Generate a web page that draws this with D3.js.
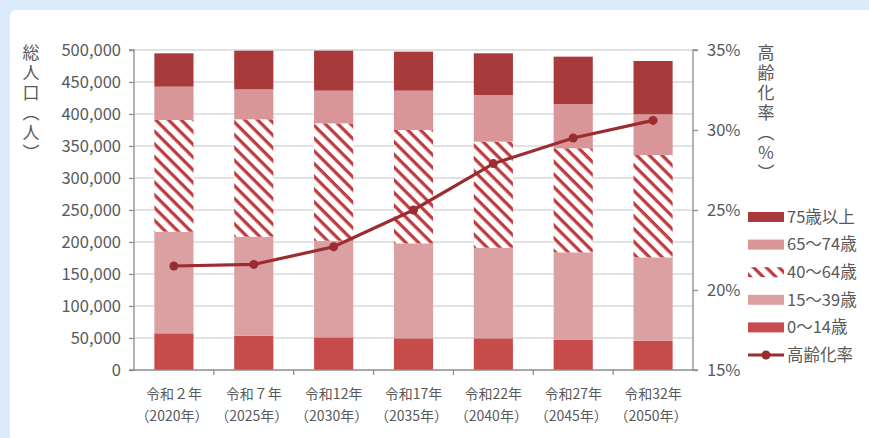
<!DOCTYPE html>
<html>
<head>
<meta charset="utf-8">
<script src="https://cdn.jsdelivr.net/npm/d3@7"></script>
<style>
  html, body { margin: 0; padding: 0; background: #dcebfb; }
  body { width: 869px; height: 438px; overflow: hidden; }
  svg { display: block; }
  text { font-family: "Noto Sans CJK JP", "Noto Sans", sans-serif; fill: #595959; }
</style>
</head>
<body>
<svg id="chart" width="869" height="438"></svg>
<script>
// Population projection by age group (people) and aging rate (%)
const periods = ["令和２年", "令和７年", "令和12年", "令和17年", "令和22年", "令和27年", "令和32年"];
const years = ["（2020年）", "（2025年）", "（2030年）", "（2035年）", "（2040年）", "（2045年）", "（2050年）"];

const age0to14  = [57300, 53600, 51000, 49500, 49500, 46900, 45800];
const age15to39 = [158800, 154700, 151000, 148400, 141600, 137000, 130200];
const age40to64 = [174500, 183400, 183400, 177100, 165700, 162500, 159900];
const age65to74 = [52100, 46800, 51100, 61500, 72900, 69200, 63600];
const age75plus = [52100, 60400, 62500, 60900, 65100, 74000, 83300];
const agingRate = [21.5, 21.6, 22.7, 25.0, 27.9, 29.5, 30.6];

const popTicks = [0, 50000, 100000, 150000, 200000, 250000, 300000, 350000, 400000, 450000, 500000];
const rateTicks = [15, 20, 25, 30, 35];

const seriesNames = ["0～14歳", "15～39歳", "40～64歳", "65～74歳", "75歳以上"];
const seriesData = [age0to14, age15to39, age40to64, age65to74, age75plus];
const seriesFill = ["#c84b4c", "#dba0a2", "url(#hatch)", "#d99597", "#a93a3b"];

const svg = d3.select("#chart");

// white card
svg.append("rect").attr("x", 10).attr("y", 10).attr("width", 869).attr("height", 438)
  .attr("rx", 6).attr("fill", "#ffffff");

// diagonal stripes running from upper left to lower right
const defs = svg.append("defs");
const pat = defs.append("pattern").attr("id", "hatch")
  .attr("patternUnits", "userSpaceOnUse").attr("width", 9).attr("height", 9)
  .attr("patternTransform", "rotate(45)");
pat.append("rect").attr("width", 9).attr("height", 9).attr("fill", "#ffffff");
pat.append("rect").attr("x", 0).attr("y", 0).attr("width", 9).attr("height", 3.3).attr("fill", "#bf3c40");

const plotL = 134, plotR = 693, plotT = 50, plotB = 370;

const x = d3.scaleBand().domain(d3.range(periods.length)).range([plotL, plotR]).paddingInner(0.51).paddingOuter(0.255);
const xb = d3.scaleBand().domain(d3.range(periods.length)).range([plotL, plotR]);
const y = d3.scaleLinear().domain([0, 500000]).range([plotB, plotT]);
const yr = d3.scaleLinear().domain([15, 35]).range([plotB, plotT]);

// gridlines
svg.append("g").selectAll("line").data(popTicks.slice(1)).join("line")
  .attr("x1", plotL).attr("x2", plotR)
  .attr("y1", d => y(d)).attr("y2", d => y(d))
  .attr("stroke", "#d9d9d9").attr("stroke-width", 1.3);

// stacked bars
const table = periods.map((p, i) => {
  const row = { i };
  seriesNames.forEach((s, k) => { row[s] = seriesData[k][i]; });
  return row;
});
const stack = d3.stack().keys(seriesNames)(table);
svg.append("g").selectAll("g").data(stack).join("g")
  .attr("fill", (d, k) => seriesFill[k])
  .selectAll("rect").data(d => d).join("rect")
  .attr("x", d => x(d.data.i))
  .attr("width", x.bandwidth())
  .attr("y", d => y(d[1]))
  .attr("height", d => y(d[0]) - y(d[1]));

// left axis
const axisColor = "#8c8c8c";
const tickFont = "'Noto Sans CJK JP', sans-serif";
const gl = svg.append("g").attr("transform", `translate(${plotL},0)`)
  .call(d3.axisLeft(y).tickValues(popTicks).tickSize(5).tickPadding(8).tickFormat(d3.format(",")));
gl.select(".domain").attr("stroke", axisColor).attr("stroke-width", 1.3).attr("d", `M-5,${plotT}H0V${plotB}H-5`);
gl.selectAll(".tick line").attr("stroke", axisColor).attr("stroke-width", 1.3);
gl.selectAll(".tick text").attr("font-size", 16.5).attr("fill", "#595959").attr("font-family", tickFont);

// right axis
const gr = svg.append("g").attr("transform", `translate(${plotR},0)`)
  .call(d3.axisRight(yr).tickValues(rateTicks).tickSize(5).tickPadding(9).tickFormat(d => d + "%"));
gr.select(".domain").attr("stroke", axisColor).attr("stroke-width", 1.3).attr("d", `M5,${plotT}H0V${plotB}H5`);
gr.selectAll(".tick line").attr("stroke", axisColor).attr("stroke-width", 1.3);
gr.selectAll(".tick text").attr("font-size", 16.5).attr("fill", "#595959").attr("font-family", tickFont);

// bottom axis
const gb = svg.append("g");
gb.append("line").attr("x1", plotL).attr("x2", plotR).attr("y1", plotB).attr("y2", plotB)
  .attr("stroke", axisColor).attr("stroke-width", 1.3);
gb.selectAll("line.tk").data(d3.range(1, periods.length)).join("line").attr("class", "tk")
  .attr("x1", d => xb(d)).attr("x2", d => xb(d)).attr("y1", plotB).attr("y2", plotB + 5)
  .attr("stroke", axisColor).attr("stroke-width", 1.3);
gb.selectAll("text.p").data(periods).join("text").attr("class", "p")
  .attr("x", (d, i) => xb(i) + xb.bandwidth() / 2).attr("y", 399)
  .attr("text-anchor", "middle").attr("font-size", 14).attr("fill", "#4d4d4d").text(d => d);
gb.selectAll("text.yr").data(years).join("text").attr("class", "yr")
  .attr("x", (d, i) => xb(i) + xb.bandwidth() / 2 - 2).attr("y", 421)
  .attr("text-anchor", "middle").attr("font-size", 14).attr("fill", "#4d4d4d").text(d => d);

// aging rate line
const lineColor = "#9b2d30";
svg.append("path").datum(agingRate)
  .attr("fill", "none").attr("stroke", lineColor).attr("stroke-width", 3.2)
  .attr("d", d3.line().x((d, i) => xb(i) + xb.bandwidth() / 2).y(d => yr(d)));
svg.append("g").selectAll("circle").data(agingRate).join("circle")
  .attr("cx", (d, i) => xb(i) + xb.bandwidth() / 2).attr("cy", d => yr(d))
  .attr("r", 4.5).attr("fill", lineColor);

// vertical axis titles
svg.append("text").attr("x", 31).attr("y", 44)
  .style("writing-mode", "vertical-rl").style("letter-spacing", "3px")
  .attr("font-size", 17).attr("fill", "#404040")
  .text("総人口（人）");
svg.append("text").attr("x", 766).attr("y", 44)
  .style("writing-mode", "vertical-rl").style("letter-spacing", "3px")
  .attr("font-size", 17).attr("fill", "#404040")
  .text("高齢化率（％）");

// legend
const legendItems = [
  { name: "75歳以上", fill: seriesFill[4] },
  { name: "65～74歳", fill: seriesFill[3] },
  { name: "40～64歳", fill: seriesFill[2] },
  { name: "15～39歳", fill: seriesFill[1] },
  { name: "0～14歳", fill: seriesFill[0] },
  { name: "高齢化率", line: true }
];
const lg = svg.append("g");
const row = lg.selectAll("g").data(legendItems).join("g")
  .attr("transform", (d, i) => `translate(748,${217 + i * 27.6})`);
row.filter(d => !d.line).append("rect")
  .attr("x", 0).attr("y", -5).attr("width", 36).attr("height", 10).attr("fill", d => d.fill);
row.filter(d => d.line).append("line")
  .attr("x1", 0).attr("x2", 36).attr("y1", 0).attr("y2", 0).attr("stroke", lineColor).attr("stroke-width", 3);
row.filter(d => d.line).append("circle").attr("cx", 18).attr("cy", 0).attr("r", 4.5).attr("fill", lineColor);
row.append("text").attr("x", 39).attr("y", 0).attr("dy", "0.35em")
  .attr("font-size", 16.5).attr("fill", "#404040").text(d => d.name);
</script>
</body>
</html>
